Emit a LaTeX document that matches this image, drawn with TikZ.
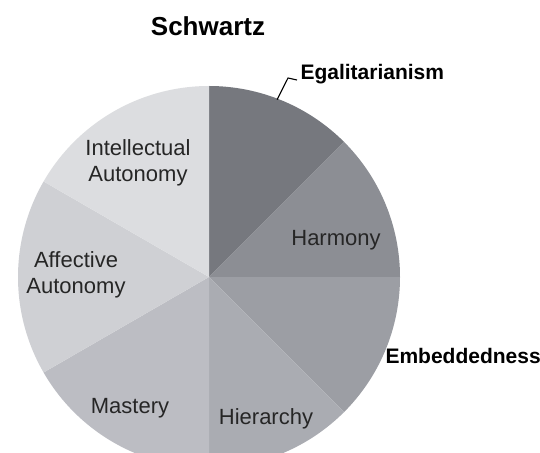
\documentclass[tikz,border=0pt]{standalone}
\usepackage{fontspec}
\setmainfont{Liberation Sans}
\usepackage{tikz}
\usetikzlibrary{positioning}

\definecolor{egalgray}{HTML}{76787E}
\definecolor{harmgray}{HTML}{8C8E94}
\definecolor{embgray}{HTML}{9C9EA4}
\definecolor{hiergray}{HTML}{AAACB2}
\definecolor{mastgray}{HTML}{BCBDC3}
\definecolor{affgray}{HTML}{CFD0D4}
\definecolor{intgray}{HTML}{DCDDE0}

\tikzset{
  slicelbl/.style={font=\fontsize{22}{26}\selectfont, align=center, text=black!85},
  outlbl/.style={font=\fontsize{21}{24}\selectfont\bfseries},
}

\begin{document}
\begin{tikzpicture}[x=1pt, y=1pt]
\useasboundingbox[fill=white] (-209,-175) rectangle (331,277);
\coordinate (c) at (0,0);

% Tartas
\fill[egalgray] (c) -- (90:191) arc (90:45:191) -- cycle;
\fill[harmgray] (c) -- (45:191) arc (45:0:191) -- cycle;
\fill[embgray]  (c) -- (0:191) arc (0:-45:191) -- cycle;
\fill[hiergray] (c) -- (-45:191) arc (-45:-90:191) -- cycle;
\fill[mastgray] (c) -- (-90:191) arc (-90:-150:191) -- cycle;
\fill[affgray]  (c) -- (-150:191) arc (-150:-210:191) -- cycle;
\fill[intgray]  (c) -- (150:191) arc (150:90:191) -- cycle;

% Etiquetas
\node[outlbl, font=\fontsize{26}{28}\selectfont\bfseries] (title) at (-1,251) {Schwartz};
\node[slicelbl] (intaut) at (-71,114) {Intellectual\\Autonomy};
\node[slicelbl] (affaut) at (-133,2) {Affective\\Autonomy};
\node[slicelbl] (harm) at (127,37) {Harmony};
\node[slicelbl] (mast) at (-79,-131) {Mastery};
\node[slicelbl] (hier) at (57,-142) {Hierarchy};
\node[outlbl, anchor=base west] (egal) at (88,197) {Egalitarianism};
\node[outlbl, anchor=west] (emb) at (173,-79) {Embeddedness};

% Linea guia
\coordinate (egaledge) at (69:190);
\coordinate (egalknee) at (79,199);
\draw[line width=1.1pt] (egaledge) -- (egalknee) -- (egal.base west);
\end{tikzpicture}
\end{document}
